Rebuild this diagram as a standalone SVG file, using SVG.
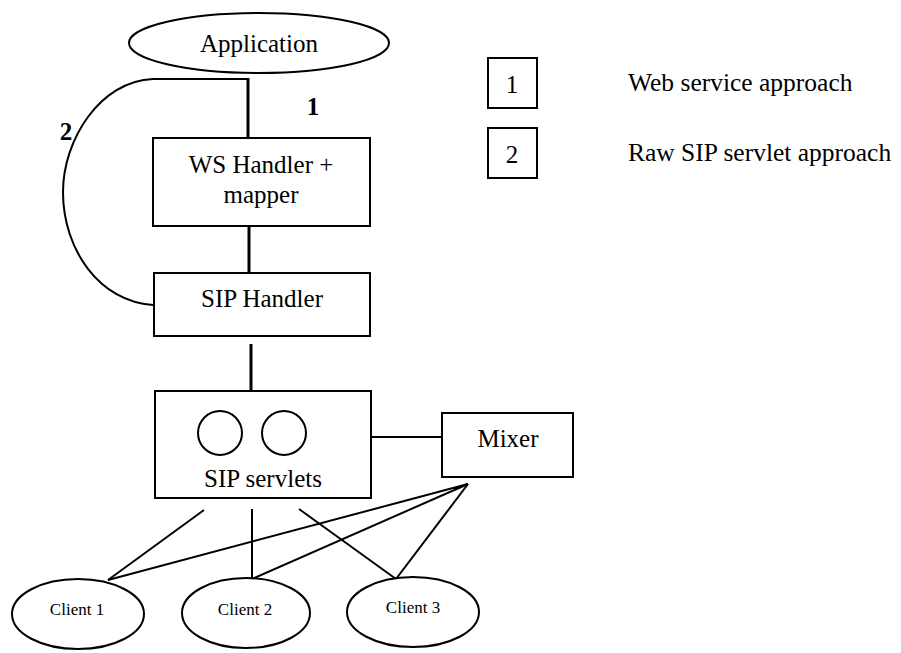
<svg xmlns="http://www.w3.org/2000/svg" width="901" height="653" viewBox="0 0 901 653" font-family="'Liberation Serif', 'DejaVu Serif', serif">
<style>
  .shape { fill: #fff; stroke: #000; stroke-width: 2; }
  .wire { fill: none; stroke: #000; stroke-width: 2; }
  .thick { fill: none; stroke: #000; stroke-width: 3; }
  text { font-family: 'Liberation Serif', 'DejaVu Serif', serif; fill: #000; text-anchor: middle; }
  .lbl { font-size: 25px; }
  .small { font-size: 17px; }
  .num { font-size: 25px; font-weight: bold; }
  .leg { font-size: 25.5px; text-anchor: start; }
</style>
<rect width="901" height="653" fill="#fff"/>

<g id="connectors">
  <line class="thick" x1="248" y1="78" x2="248" y2="138"/>
  <path class="wire" d="M248,79 L153,79 C100,81 63,140 63,192 C63,250 100,302 153,305"/>
  <line class="thick" x1="249" y1="226" x2="249" y2="273"/>
  <line class="thick" x1="251" y1="344" x2="251" y2="391"/>
  <line class="wire" x1="371" y1="437" x2="442" y2="437"/>
  <line class="wire" x1="204" y1="510" x2="108" y2="580"/>
  <line class="wire" x1="252" y1="509" x2="252" y2="579"/>
  <line class="wire" x1="299" y1="509" x2="396" y2="579"/>
  <polyline class="wire" points="108,580 468,484 252,579"/>
  <line class="wire" x1="468" y1="484" x2="396" y2="579"/>
</g>

<g id="application">
  <ellipse class="shape" cx="259" cy="43" rx="130" ry="30"/>
  <text class="lbl" x="259" y="52">Application</text>
</g>

<g id="label-1"><text class="num" x="313" y="115">1</text></g>
<g id="label-2"><text class="num" x="66" y="140">2</text></g>

<g id="ws-handler">
  <rect class="shape" x="153" y="138" width="217" height="88"/>
  <text class="lbl" x="261" y="173">WS Handler +</text>
  <text class="lbl" x="261" y="203">mapper</text>
</g>

<g id="sip-handler">
  <rect class="shape" x="154" y="273" width="216" height="63"/>
  <text class="lbl" x="262" y="307">SIP Handler</text>
</g>

<g id="sip-servlets">
  <rect class="shape" x="155" y="391" width="216" height="107"/>
  <circle class="shape" cx="220" cy="433" r="22"/>
  <circle class="shape" cx="284" cy="433" r="22"/>
  <text class="lbl" x="263" y="487">SIP servlets</text>
</g>

<g id="mixer">
  <rect class="shape" x="442" y="413" width="131" height="64"/>
  <text class="lbl" x="508" y="447">Mixer</text>
</g>

<g id="client-1">
  <ellipse class="shape" cx="78" cy="614" rx="66" ry="35"/>
  <text class="small" x="77" y="615">Client 1</text>
</g>
<g id="client-2">
  <ellipse class="shape" cx="246" cy="613" rx="64" ry="35"/>
  <text class="small" x="245" y="615">Client 2</text>
</g>
<g id="client-3">
  <ellipse class="shape" cx="413" cy="612" rx="66" ry="35"/>
  <text class="small" x="413" y="613">Client 3</text>
</g>

<g id="legend-1">
  <rect class="shape" x="488" y="58" width="49" height="50"/>
  <text class="lbl" x="512" y="93">1</text>
  <text class="leg" x="628" y="91">Web service approach</text>
</g>
<g id="legend-2">
  <rect class="shape" x="488" y="128" width="49" height="50"/>
  <text class="lbl" x="512" y="163">2</text>
  <text class="leg" x="628" y="161">Raw SIP servlet approach</text>
</g>
</svg>
